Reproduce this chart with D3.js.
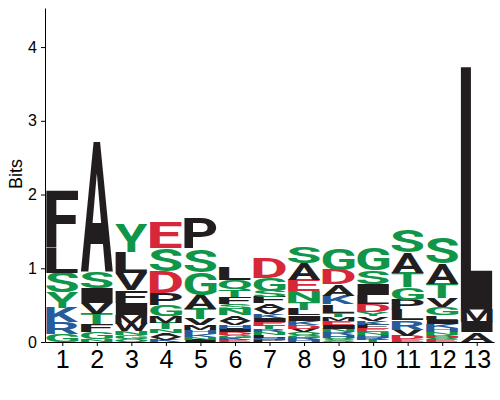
<!DOCTYPE html>
<html lang="en">
<head>
<meta charset="UTF-8">
<title>Sequence logo</title>
<script src="https://cdn.jsdelivr.net/npm/d3@7"></script>
<style>
  body { margin: 0; background: #fff; }
  .axis text { font-family: "Liberation Sans", Arial, sans-serif; fill: #000; }
  .axis path, .axis line { stroke: #000; }
</style>
</head>
<body>
<svg id="logo" width="500" height="400"></svg>
<script>
// positions along the motif
const positions = [1, 2, 3, 4, 5, 6, 7, 8, 9, 10, 11, 12, 13];

// letters of each stack, listed top to bottom
const letters = [
  "FLSYKRG",
  "ASIVTFGN",
  "YLVFIMWNGQ",
  "ESDPGMTNAVK",
  "PSGATVMHKNI",
  "LQTFSNAVHIDGKE",
  "DGSFAVKIETRNLHP",
  "SAENTLIKDVQGRH",
  "GDAKLTMEINRHQS",
  "GSILDYVKFENHRT",
  "SATGPLRVDE",
  "SATVGLIKHNDQE",
  "LMIA"
];

// letter heights in bits, same order as above
const heights = [
  [0.78, 0.34, 0.27, 0.21, 0.19, 0.16, 0.11],
  [1.78, 0.23, 0.20, 0.15, 0.135, 0.11, 0.10, 0.04],
  [0.37, 0.29, 0.23, 0.17, 0.16, 0.12, 0.10, 0.06, 0.05, 0.04],
  [0.36, 0.31, 0.30, 0.16, 0.15, 0.09, 0.08, 0.06, 0.05, 0.04, 0.03],
  [0.42, 0.32, 0.31, 0.19, 0.14, 0.08, 0.07, 0.05, 0.04, 0.04, 0.03],
  [0.18, 0.14, 0.09, 0.085, 0.08, 0.08, 0.07, 0.06, 0.05, 0.045, 0.04, 0.035, 0.03, 0.03],
  [0.27, 0.18, 0.085, 0.08, 0.075, 0.065, 0.06, 0.055, 0.05, 0.045, 0.04, 0.04, 0.035, 0.03, 0.03],
  [0.23, 0.23, 0.155, 0.145, 0.10, 0.08, 0.07, 0.06, 0.05, 0.05, 0.04, 0.035, 0.03, 0.025],
  [0.30, 0.19, 0.15, 0.12, 0.115, 0.06, 0.055, 0.05, 0.05, 0.045, 0.04, 0.035, 0.03, 0.03],
  [0.32, 0.18, 0.15, 0.12, 0.11, 0.06, 0.06, 0.055, 0.05, 0.045, 0.04, 0.04, 0.03, 0.03],
  [0.31, 0.27, 0.20, 0.17, 0.14, 0.135, 0.13, 0.08, 0.05, 0.035],
  [0.35, 0.27, 0.20, 0.12, 0.11, 0.06, 0.06, 0.05, 0.05, 0.04, 0.04, 0.03, 0.03],
  [3.33, 0.17, 0.14, 0.13]
];

const yTicks = [0, 1, 2, 3, 4];

// chemistry colour groups
const polar = "GSTYCQN", basic = "KRH", acidic = "DE";
const colorOf = ch => polar.includes(ch) ? "#109648"
  : basic.includes(ch) ? "#255C99"
  : acidic.includes(ch) ? "#D62839" : "#221E1F";

const margin = {top: 8, right: 6, bottom: 58, left: 45};
const width = 500 - margin.left - margin.right;
const height = 400 - margin.top - margin.bottom;

const svg = d3.select("#logo");
const g = svg.append("g").attr("transform", `translate(${margin.left},${margin.top})`);

const x = d3.scaleLinear().domain([0.5, 13.5]).range([0, width]);
const y = d3.scaleLinear().domain([0, 4.53]).range([height, 0]);
const colW = (x(2) - x(1)) * 0.93;

// measure ink box of each glyph so it can be stretched to its slot
const glyphFont = "bold 100px Roboto";
const ctx = document.createElement("canvas").getContext("2d");
ctx.font = glyphFont;
const inkCache = {};
function ink(ch) {
  if (!inkCache[ch]) {
    const m = ctx.measureText(ch);
    inkCache[ch] = {l: m.actualBoundingBoxLeft, r: m.actualBoundingBoxRight,
                    a: m.actualBoundingBoxAscent, d: m.actualBoundingBoxDescent};
  }
  return inkCache[ch];
}

// stack letters from the baseline up (smallest at the bottom)
const glyphs = [];
positions.forEach((p, i) => {
  let base = 0;
  const chars = letters[i].split("");
  for (let k = chars.length - 1; k >= 0; k--) {
    glyphs.push({pos: p, ch: chars[k], y0: base, y1: base + heights[i][k]});
    base += heights[i][k];
  }
});

g.append("g").selectAll("text")
  .data(glyphs)
  .join("text")
  .attr("font-family", "Roboto")
  .attr("font-weight", "bold")
  .attr("font-size", 100)
  .attr("fill", d => colorOf(d.ch))
  .attr("transform", d => {
    const m = ink(d.ch);
    const sx = colW / (m.l + m.r);
    const sy = (y(d.y0) - y(d.y1)) / (m.a + m.d);
    return `translate(${x(d.pos) - colW / 2},${y(d.y1)}) scale(${sx},${sy}) translate(${m.l},${m.a})`;
  })
  .text(d => d.ch);

// axes
g.append("g")
  .attr("class", "axis")
  .call(d3.axisLeft(y).tickValues(yTicks).tickFormat(d3.format("d"))
    .tickSize(4).tickSizeOuter(0).tickPadding(4))
  .call(a => a.selectAll("text").attr("font-size", 16));

g.append("g")
  .attr("class", "axis")
  .attr("transform", `translate(0,${height})`)
  .call(d3.axisBottom(x).tickValues(positions).tickSize(4).tickSizeOuter(0).tickPadding(4))
  .call(a => a.selectAll("text").attr("font-size", 25));

svg.append("text")
  .attr("transform", `translate(22,${margin.top + y(2.28)}) rotate(-90)`)
  .attr("text-anchor", "middle")
  .attr("font-family", "Liberation Sans, Arial, sans-serif")
  .attr("font-size", 18)
  .text("Bits");
</script>
</body>
</html>
